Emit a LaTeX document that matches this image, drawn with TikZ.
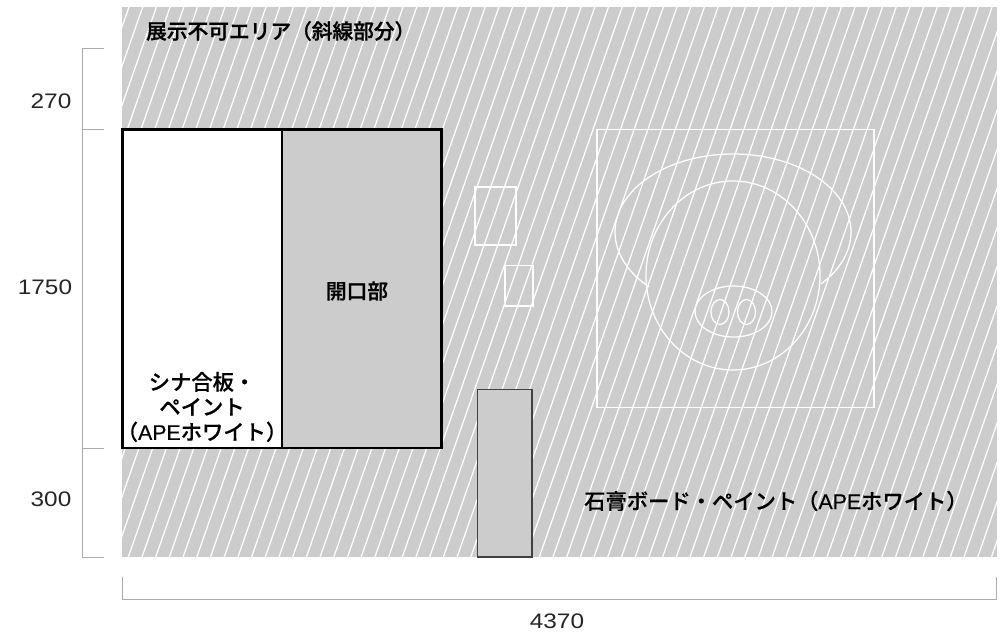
\documentclass[tikz,border=0pt]{standalone}
\usepackage{fontspec}
\setmainfont{Noto Sans CJK JP Medium}[FakeBold=0.25]
\newfontfamily\semifont[FakeBold=1.0]{Noto Sans CJK JP Medium}
\newfontfamily\apefont[FakeBold=0.35]{Liberation Sans}
\newfontfamily\numfont[FakeStretch=1.16]{Liberation Sans}
\newcommand{\ape}{{\apefont APE}}
\definecolor{wallgray}{HTML}{CBCCCB}
\definecolor{dimgray}{HTML}{ABABAB}
\tikzset{
  x=1pt,y=-1pt,
  lbl/.style={inner sep=0pt,font=\fontsize{21.3}{25}\selectfont,text=black,align=center},
  lblb/.style={lbl,font=\semifont\fontsize{20.7}{25}\selectfont},
  num/.style={inner sep=0pt,font=\numfont\fontsize{21}{25}\selectfont,text=black!85},
  dimline/.style={draw=dimgray,line width=1pt},
  hatchline/.style={draw=white,line width=1.25pt},
  pigline/.style={draw=white,line width=1.25pt},
  panel/.style={draw=black,line width=2.6pt},
}
\begin{document}
\begin{tikzpicture}
\useasboundingbox (0,0) rectangle (1004,634);
\fill[wallgray] (122,7) rectangle (997,557);
\begin{scope}
\clip (122,7) rectangle (997,557);
\foreach \i in {-1,...,79}{
  \draw[hatchline] ({129+13.7*\i-192.5},557) -- ({129+13.7*\i},7);
}
\end{scope}
% pig and small frames
\draw[pigline] (597,129.5) rectangle (874,407.5);
\draw[pigline] (475,187) rectangle (516,245);
\draw[pigline] (505,265.5) rectangle (533,306);
\draw[pigline] plot[domain=135.4:401.8,samples=90,smooth] ({733+118*cos(\x)},{232+78*sin(\x)});
\draw[pigline] (733,275.5) ellipse [x radius=87,y radius=94.5];
\draw[pigline] (733.5,311.5) ellipse [x radius=38.5,y radius=25.5];
\draw[pigline] (720,312) ellipse [x radius=9,y radius=12.5];
\draw[pigline] (746.5,312) ellipse [x radius=9,y radius=12.5];
% panels
\path[panel,fill=white] (122.5,129.5) rectangle (282,448);
\path[panel,fill=wallgray] (282,129.5) rectangle (441.5,448);
\path[fill=wallgray,draw=black!75,line width=1.3pt] (477.5,389.5) rectangle (532,557);
% dimensions
\draw[dimline] (104,48.5) -- (82,48.5) -- (82,557) -- (104,557);
\draw[dimline] (82,129.5) -- (104,129.5);
\draw[dimline] (82,448) -- (104,448);
\draw[dimline] (122.5,577) -- (122.5,599) -- (996,599) -- (996,577);
% text
\node[lblb,anchor=west] (notice) at (146,31) {展示不可エリア（斜線部分）};
\node[lblb] (opening) at (357,291) {開口部};
\node[lbl] (plywood) at (202,407) {シナ合板・\\ペイント\\（\ape ホワイト）};
\node[lbl,anchor=west] (board) at (584,501) {石膏ボード・ペイント（\ape ホワイト）};
\node[num] (d270) at (51,101) {270};
\node[num] (d1750) at (45,287) {1750};
\node[num] (d300) at (51,499) {300};
\node[num] (d4370) at (557,621) {4370};
\end{tikzpicture}
\end{document}
